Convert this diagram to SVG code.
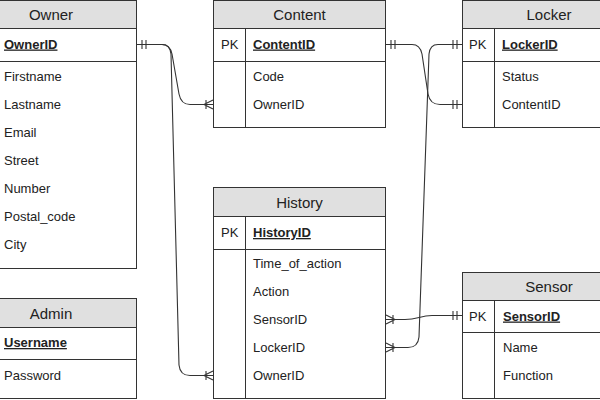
<svg xmlns="http://www.w3.org/2000/svg" width="600" height="400" viewBox="0 0 600 400">
<style>
text{font-family:"Liberation Sans",Arial,sans-serif;fill:#222}
.title{font-size:15px;text-anchor:middle}
.fld{font-size:13px}
.key{font-size:13px;font-weight:bold;text-decoration:underline}
.hdr{fill:#e0e0e0;stroke:#333;stroke-width:1}
.box{fill:none;stroke:#333;stroke-width:1}
.sep{stroke:#333;stroke-width:1}
.conn{fill:none;stroke:#333;stroke-width:1.1}
.mk{fill:none;stroke:#333;stroke-width:1.1}
</style>
<defs>
<marker id="one" markerUnits="userSpaceOnUse" viewBox="-12 -6 14 12" refX="0" refY="0" markerWidth="14" markerHeight="12" orient="auto-start-reverse">
<path class="mk" d="M-5,-4.5V4.5M-9,-4.5V4.5"/>
</marker>
<marker id="many" markerUnits="userSpaceOnUse" viewBox="-12 -6 14 12" refX="0" refY="0" markerWidth="14" markerHeight="12" orient="auto-start-reverse">
<path class="mk" d="M0,-4.5L-9,0L0,4.5M-7,-4.5V4.5"/>
</marker>
</defs>
<rect width="600" height="400" fill="#fff"/>

<g id="owner">
<rect class="hdr" x="-35.5" y="0.5" width="172" height="28"/>
<rect class="box" x="-35.5" y="0.5" width="172" height="268"/>
<line class="sep" x1="-35" y1="61.5" x2="137" y2="61.5"/>
<text class="title" x="51" y="19.5">Owner</text>
<text class="key" x="4" y="48.5">OwnerID</text>
<text class="fld" x="4" y="81">Firstname</text>
<text class="fld" x="4" y="109">Lastname</text>
<text class="fld" x="4" y="137">Email</text>
<text class="fld" x="4" y="165">Street</text>
<text class="fld" x="4" y="193">Number</text>
<text class="fld" x="4" y="221">Postal_code</text>
<text class="fld" x="4" y="249">City</text>
</g>

<g id="admin">
<rect class="hdr" x="-35.5" y="298.5" width="172" height="29"/>
<rect class="box" x="-35.5" y="298.5" width="172" height="100"/>
<line class="sep" x1="-35" y1="359.5" x2="137" y2="359.5"/>
<text class="title" x="51" y="318.5">Admin</text>
<text class="key" x="4" y="347">Username</text>
<text class="fld" x="4" y="379.5">Password</text>
</g>

<g id="content">
<rect class="hdr" x="213.5" y="0.5" width="172" height="28"/>
<rect class="box" x="213.5" y="0.5" width="172" height="127"/>
<line class="sep" x1="214" y1="61.5" x2="386" y2="61.5"/>
<line class="sep" x1="245.5" y1="28.5" x2="245.5" y2="127.5"/>
<text class="title" x="299.5" y="19.5">Content</text>
<text class="fld" x="221" y="48.5">PK</text>
<text class="key" x="253" y="48.5">ContentID</text>
<text class="fld" x="253" y="81">Code</text>
<text class="fld" x="253" y="109">OwnerID</text>
</g>

<g id="locker">
<rect class="hdr" x="462.5" y="0.5" width="174" height="28"/>
<rect class="box" x="462.5" y="0.5" width="174" height="127"/>
<line class="sep" x1="463" y1="61.5" x2="637" y2="61.5"/>
<line class="sep" x1="494.5" y1="28.5" x2="494.5" y2="127.5"/>
<text class="title" x="549" y="19.5">Locker</text>
<text class="fld" x="469" y="48.5">PK</text>
<text class="key" x="502" y="48.5">LockerID</text>
<text class="fld" x="502" y="81">Status</text>
<text class="fld" x="502" y="109">ContentID</text>
</g>

<g id="history">
<rect class="hdr" x="213.5" y="187.5" width="172" height="29"/>
<rect class="box" x="213.5" y="187.5" width="172" height="211"/>
<line class="sep" x1="214" y1="249.5" x2="386" y2="249.5"/>
<line class="sep" x1="245.5" y1="216.5" x2="245.5" y2="398.5"/>
<text class="title" x="299.5" y="207.5">History</text>
<text class="fld" x="221" y="237">PK</text>
<text class="key" x="253" y="237">HistoryID</text>
<text class="fld" x="253" y="267.5">Time_of_action</text>
<text class="fld" x="253" y="295.5">Action</text>
<text class="fld" x="253" y="323.5">SensorID</text>
<text class="fld" x="253" y="351.5">LockerID</text>
<text class="fld" x="253" y="379.5">OwnerID</text>
</g>

<g id="sensor">
<rect class="hdr" x="462.5" y="272.5" width="174" height="28"/>
<rect class="box" x="462.5" y="272.5" width="174" height="126"/>
<line class="sep" x1="463" y1="332.5" x2="637" y2="332.5"/>
<line class="sep" x1="494.5" y1="300.5" x2="494.5" y2="398.5"/>
<text class="title" x="549" y="291.5">Sensor</text>
<text class="fld" x="469" y="320.5">PK</text>
<text class="key" x="503" y="320.5">SensorID</text>
<text class="fld" x="503" y="352">Name</text>
<text class="fld" x="503" y="380">Function</text>
</g>

<g id="connectors">
<path class="conn" marker-start="url(#one)" marker-end="url(#many)" d="M137,44.5H162Q170,44.5 172,54L179,94Q181,104.5 190,104.5H213"/>
<path class="conn" marker-end="url(#many)" d="M137,44.5H162Q170,44.5 171,54L179,365Q180,375.5 190,375.5H213"/>
<path class="conn" marker-start="url(#one)" marker-end="url(#one)" d="M386,44.5H412Q420,44.5 422,54L428,94Q430,104.5 440,104.5H462"/>
<path class="conn" marker-start="url(#one)" marker-end="url(#many)" d="M462,44.5H438Q430,44.5 429,54L419,337Q418,347.5 408,347.5H386"/>
<path class="conn" marker-start="url(#one)" marker-end="url(#many)" d="M462,315.5H432C420,315.5 418,319.5 405,319.5H386"/>
</g>
</svg>
